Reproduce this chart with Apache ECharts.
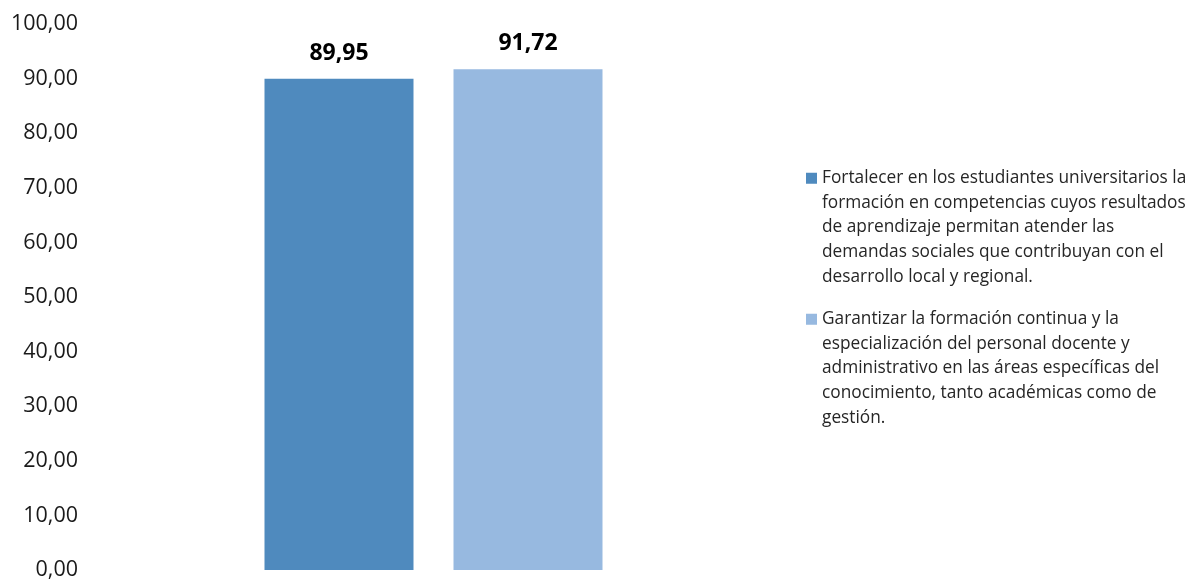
<!DOCTYPE html>
<html>
<head>
<meta charset="utf-8">
<script src="https://cdn.jsdelivr.net/npm/echarts@6/dist/echarts.min.js"></script>
<style>
html,body{margin:0;padding:0;background:#fff;}
#c{width:1194px;height:581px;}
</style>
</head>
<body>
<div id="c"></div>
<script>
// ---- data ----
const categories = [''];
const seriesNames = [
  ['Fortalecer en los estudiantes universitarios la',
   'formación en competencias cuyos resultados',
   'de aprendizaje permitan atender las',
   'demandas sociales que contribuyan con el',
   'desarrollo local y regional.'],
  ['Garantizar la formación continua y la',
   'especialización del personal docente y',
   'administrativo en las áreas específicas del',
   'conocimiento, tanto académicas como de',
   'gestión.']
];
const values1 = [89.95];
const values2 = [91.72];
const yTicks = [0, 10, 20, 30, 40, 50, 60, 70, 80, 90, 100];

// ---- styling ----
const colors = ['#4F8ABE', '#97B9E0'];
const LH = 24.6;
const nLines = 5;
const itemH = LH * nLines;
const sq = 11;
const sqTop = LH / 2 - sq / 2;
const iconPath = 'path://M0,0L0.01,0L0,0.01Z M0,' + sqTop + 'L' + sq + ',' + sqTop + 'L' + sq + ',' + (sqTop + sq) + 'L0,' + (sqTop + sq) + 'Z M' + sq + ',' + itemH + 'L' + (sq - 0.01) + ',' + itemH + 'L' + sq + ',' + (itemH - 0.01) + 'Z';

const fmt = v => Number(v).toFixed(2).replace('.', ',');
const names = seriesNames.map(l => l.join('\n'));

const chart = echarts.init(document.getElementById('c'), null, {renderer: 'canvas'});
chart.setOption({
  backgroundColor: '#ffffff',
  animation: false,
  textStyle: {fontFamily: 'Open Sans'},
  grid: {left: 90, right: 417, top: 24, bottom: 10, containLabel: false},
  legend: {
    orient: 'vertical',
    left: 806,
    top: 166,
    padding: 0,
    itemGap: 18,
    itemWidth: sq,
    itemHeight: itemH,
    icon: iconPath,
    selectedMode: false,
    textStyle: {fontFamily: 'Open Sans', fontSize: 17.3, lineHeight: LH, color: '#262626'},
    data: names
  },
  xAxis: {
    type: 'category',
    data: categories,
    axisLine: {show: false},
    axisTick: {show: false},
    axisLabel: {show: false}
  },
  yAxis: {
    type: 'value',
    min: yTicks[0],
    max: yTicks[yTicks.length - 1],
    interval: yTicks[1] - yTicks[0],
    axisLine: {show: false},
    axisTick: {show: false},
    splitLine: {show: false},
    axisLabel: {
      margin: 12,
      fontFamily: 'Open Sans',
      fontSize: 21.5,
      color: '#1a1a1a',
      formatter: fmt
    }
  },
  series: [
    {
      name: names[0], type: 'bar', data: values1,
      barWidth: 149, barGap: '26.85%',
      itemStyle: {color: colors[0]},
      label: {show: true, position: 'top', distance: 14, fontFamily: 'Open Sans', fontWeight: 'bold', fontSize: 23, color: '#000', formatter: p => fmt(p.value)}
    },
    {
      name: names[1], type: 'bar', data: values2,
      barWidth: 149, barGap: '26.85%',
      itemStyle: {color: colors[1]},
      label: {show: true, position: 'top', distance: 14, fontFamily: 'Open Sans', fontWeight: 'bold', fontSize: 23, color: '#000', formatter: p => fmt(p.value)}
    }
  ]
});
</script>
</body>
</html>
